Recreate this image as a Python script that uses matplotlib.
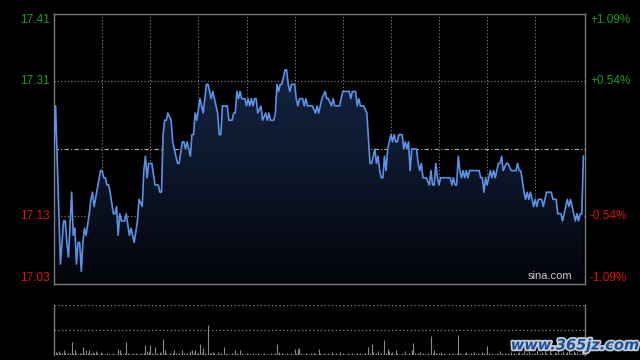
import numpy as np
import matplotlib
matplotlib.use("Agg")
import matplotlib.pyplot as plt
from matplotlib import patheffects as pe

# ---------------- data ----------------
prev_close = 17.22
pct_range = 0.0109
left_labels = ["17.41", "17.31", "17.13", "17.03"]
right_labels = ["+1.09%", "+0.54%", "-0.54%", "-1.09%"]

minutes = [0, 1, 4, 6, 7, 8, 9, 11, 12, 13, 14, 15, 16, 17, 18, 19, 20, 22, 23, 24,
           25, 29, 30, 31, 32, 33, 34, 35, 37, 38, 39, 40, 41, 42, 44, 45, 47, 48, 50, 52,
           53, 55, 56, 57, 58, 59, 61, 63, 65, 66, 67, 68, 69, 70, 71, 73, 74, 75, 77, 78,
           80, 81, 82, 83, 84, 85, 86, 87, 88, 89, 91, 93, 94, 95, 96, 98, 99, 101, 102, 103,
           104, 105, 108, 109, 111, 112, 113, 114, 115, 116, 117, 119, 120, 121, 122, 123, 124, 125, 126, 127,
           129, 130, 132, 133, 134, 135, 137, 138, 139, 140, 141, 142, 144, 145, 146, 147, 148, 150, 151, 152,
           153, 155, 156, 157, 158, 161, 163, 164, 165, 167, 169, 170, 171, 173, 174, 175, 178, 180, 184, 185,
           186, 188, 189, 190, 191, 193, 195, 197, 198, 200, 201, 202, 203, 204, 205, 206, 207, 208, 210, 211,
           212, 213, 214, 215, 217, 218, 219, 220, 221, 222, 223, 226, 227, 228, 229, 230, 232, 234, 235, 236,
           237, 238, 239, 240, 241, 247, 248, 249, 250, 251, 252, 253, 254, 255, 256, 257, 258, 259, 265, 266,
           267, 268, 269, 270, 271, 272, 273, 274, 275, 276, 277, 278, 279, 280, 282, 283, 285, 288, 289, 290,
           291, 293, 294, 295, 296, 297, 298, 299, 300, 301, 302, 304, 305, 306, 307, 310, 311, 313, 314, 316,
           317, 318, 319, 320, 321, 322, 323, 324, 325, 326, 327, 328, 329, 330]

prices = [17.22, 17.28, 17.06, 17.12, 17.12, 17.09, 17.07, 17.16, 17.10, 17.11, 17.06, 17.09, 17.09, 17.05, 17.09, 17.11, 17.10, 17.13, 17.15, 17.16,
          17.14, 17.19, 17.19, 17.18, 17.18, 17.17, 17.17, 17.16, 17.13, 17.13, 17.14, 17.10, 17.13, 17.12, 17.12, 17.13, 17.10, 17.11, 17.09, 17.12,
          17.15, 17.14, 17.19, 17.21, 17.18, 17.20, 17.20, 17.17, 17.17, 17.16, 17.16, 17.24, 17.26, 17.26, 17.27, 17.26, 17.23, 17.22, 17.20, 17.20,
          17.23, 17.23, 17.22, 17.23, 17.22, 17.21, 17.24, 17.24, 17.27, 17.26, 17.29, 17.27, 17.29, 17.31, 17.31, 17.29, 17.30, 17.28, 17.27, 17.24,
          17.24, 17.28, 17.28, 17.26, 17.26, 17.27, 17.27, 17.30, 17.29, 17.30, 17.29, 17.29, 17.28, 17.29, 17.28, 17.29, 17.28, 17.29, 17.29, 17.27,
          17.28, 17.26, 17.27, 17.26, 17.27, 17.26, 17.26, 17.27, 17.31, 17.30, 17.31, 17.31, 17.33, 17.33, 17.31, 17.30, 17.31, 17.31, 17.29, 17.28,
          17.29, 17.29, 17.28, 17.29, 17.28, 17.28, 17.27, 17.28, 17.27, 17.29, 17.30, 17.29, 17.29, 17.28, 17.29, 17.28, 17.28, 17.30, 17.30, 17.29,
          17.30, 17.30, 17.28, 17.29, 17.28, 17.28, 17.27, 17.20, 17.20, 17.22, 17.20, 17.21, 17.19, 17.18, 17.18, 17.21, 17.19, 17.22, 17.24, 17.23,
          17.24, 17.23, 17.23, 17.24, 17.24, 17.22, 17.23, 17.22, 17.23, 17.19, 17.22, 17.22, 17.20, 17.19, 17.20, 17.18, 17.18, 17.17, 17.19, 17.17,
          17.17, 17.20, 17.18, 17.17, 17.18, 17.18, 17.17, 17.18, 17.17, 17.17, 17.21, 17.19, 17.18, 17.19, 17.18, 17.19, 17.18, 17.19, 17.19, 17.18,
          17.18, 17.16, 17.18, 17.17, 17.18, 17.19, 17.18, 17.19, 17.18, 17.19, 17.20, 17.20, 17.21, 17.19, 17.20, 17.20, 17.19, 17.19, 17.20, 17.19,
          17.19, 17.16, 17.15, 17.16, 17.15, 17.16, 17.15, 17.14, 17.15, 17.14, 17.15, 17.15, 17.14, 17.15, 17.16, 17.16, 17.15, 17.15, 17.13, 17.13,
          17.12, 17.13, 17.14, 17.15, 17.14, 17.15, 17.14, 17.13, 17.12, 17.13, 17.12, 17.13, 17.13, 17.21]

volumes = [3, 3, 2, 4, 2, 2, 5, 2, 1, 2,
           2, 13, 2, 5, 2, 1, 2, 2, 8, 2,
           5, 2, 5, 2, 3, 2, 4, 2, 1, 3,
           2, 1, 1, 2, 1, 1, 1, 2, 1, 1,
           6, 5, 2, 1, 2, 13, 2, 1, 1, 2,
           1, 2, 1, 1, 2, 1, 2, 10, 4, 3,
           10, 2, 1, 8, 2, 1, 3, 2, 16, 5,
           2, 1, 2, 1, 2, 5, 2, 1, 2, 1,
           5, 2, 1, 2, 1, 4, 5, 2, 5, 2,
           2, 11, 2, 7, 2, 1, 30, 2, 2, 3,
           2, 1, 3, 1, 2, 1, 8, 2, 1, 1,
           1, 2, 1, 5, 2, 1, 5, 2, 1, 1,
           2, 1, 1, 1, 2, 1, 1, 2, 1, 1,
           1, 2, 1, 1, 1, 2, 1, 1, 2, 11,
           3, 1, 2, 1, 1, 2, 1, 1, 2, 1,
           6, 2, 6, 7, 2, 1, 1, 2, 1, 1,
           2, 1, 2, 2, 1, 6, 2, 1, 2, 1,
           1, 2, 1, 3, 1, 1, 2, 1, 3, 1,
           2, 1, 1, 2, 1, 1, 2, 1, 1, 2,
           1, 2, 1, 1, 2, 1, 8, 2, 11, 3,
           1, 2, 4, 1, 2, 1, 15, 2, 6, 4,
           2, 3, 1, 5, 2, 1, 1, 2, 1, 4,
           1, 2, 1, 5, 12, 2, 1, 2, 3, 1,
           2, 1, 1, 2, 1, 19, 2, 5, 2, 1,
           2, 3, 1, 2, 1, 1, 2, 1, 1, 2,
           1, 2, 20, 2, 1, 1, 2, 3, 1, 1,
           2, 1, 3, 1, 2, 1, 1, 3, 2, 1,
           9, 2, 1, 2, 1, 1, 2, 1, 4, 2,
           1, 2, 1, 2, 1, 3, 1, 2, 1, 2,
           3, 1, 2, 5, 1, 2, 4, 1, 2, 1,
           2, 5, 1, 2, 3, 1, 4, 2, 1, 5,
           2, 1, 3, 2, 5, 1, 2, 4, 1, 2,
           3, 5, 2, 1, 4, 2, 3, 1, 2, 6,
           4]
vol_max = 50

# ---------------- figure ----------------
plt.rcParams['font.family'] = ['Liberation Sans', 'DejaVu Sans']
fig = plt.figure(figsize=(6.4, 3.6), dpi=100, facecolor='black')

W, H = 640.0, 360.0
x0, x1 = 54, 585
ax = fig.add_axes([x0 / W, 1 - 284 / H, (x1 - x0) / W, (284 - 14) / H])
axv = fig.add_axes([x0 / W, 1 - 355 / H, (x1 - x0) / W, (355 - 305) / H])

ymin = prev_close * (1 - pct_range)
ymax = prev_close * (1 + pct_range)
q_hi = prev_close + (ymax - prev_close) / 2
q_lo = prev_close - (prev_close - ymin) / 2
n_min = 331

for a in (ax, axv):
    a.set_facecolor('black')
    a.set_xticks([])
    a.set_yticks([])
    a.set_xlim(0, n_min)

ax.set_ylim(ymin, ymax)
for s in ax.spines.values():
    s.set_color('#7a7a7a')
    s.set_linewidth(1.0)

grid_col = '#8a8a8a'
dots = (0, (1, 2))
for m in range(30, 330, 30):
    ax.axvline(m, color=grid_col, lw=0.8, ls=dots, zorder=1)
for yv in (q_hi, q_lo):
    ax.axhline(yv, color=grid_col, lw=0.8, ls=dots, zorder=1)
ax.axhline(prev_close, color='#b0b0b0', lw=0.8, ls=(0, (4, 2, 1, 2)), zorder=1)

# gradient fill under the price line
mx = np.array(minutes, dtype=float)
py = np.array(prices, dtype=float)
poly = ax.fill_between(mx, py, ymin, facecolor='none', edgecolor='none')
grad = np.linspace(0, 1, 256).reshape(-1, 1)
from matplotlib.colors import LinearSegmentedColormap
cmap = LinearSegmentedColormap.from_list('g', ['#03040a', '#0e1a30', '#18284a'])
img = ax.imshow(grad, extent=[0, n_min, ymin, ymax], origin='lower', aspect='auto',
                cmap=cmap, zorder=2)
img.set_clip_path(poly.get_paths()[0], transform=ax.transData)
ax.plot(mx, py, color='#5a92e6', lw=1.2, zorder=3, solid_joinstyle='round')

# labels
lab_vals = [ymax, q_hi, q_lo, ymin]
lab_cols = ['#1f9a1f', '#1f9a1f', '#dd1111', '#dd1111']
vas = ['top', 'center', 'center', 'bottom']
for v, l, r, c, va in zip(lab_vals, left_labels, right_labels, lab_cols, vas):
    ax.annotate(l, xy=(0, v), xycoords=('axes fraction', 'data'), xytext=(-4, 0),
                textcoords='offset pixels', ha='right', va=va, color=c, fontsize=8.5)
    ax.annotate(r, xy=(1, v), xycoords=('axes fraction', 'data'), xytext=(5, 0),
                textcoords='offset pixels', ha='left', va=va, color=c, fontsize=8.5)

ax.text(0.977, 0.012, 'sina.com', transform=ax.transAxes, ha='right', va='bottom',
        color='#c8c8c8', fontsize=8, zorder=5)

# volume panel
axv.set_ylim(0, vol_max)
axv.spines['top'].set_visible(False)
axv.spines['bottom'].set_visible(False)
for k in ('left', 'right'):
    axv.spines[k].set_color('#7a7a7a')
    axv.spines[k].set_linewidth(1.0)
axv.axhline(vol_max, color=grid_col, lw=0.9, ls=dots)
axv.axhline(vol_max / 2, color=grid_col, lw=0.9, ls=dots)
axv.vlines(np.arange(len(volumes)), 0, volumes, color='#8a8a8a', lw=0.8)

fig.text(575 / W, 1 - 345 / H, 'www.365jz.com', ha='center', va='center',
         color='#1d4f9c', fontsize=10.5, fontweight='bold', style='italic',
         family='DejaVu Sans',
         path_effects=[pe.withStroke(linewidth=2.5, foreground='#c8ccd4')], zorder=10)

fig.savefig('out.png', dpi=100, facecolor='black')
